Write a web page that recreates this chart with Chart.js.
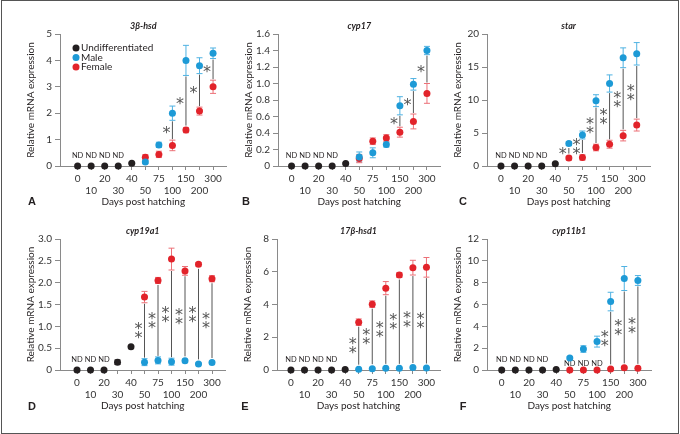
<!DOCTYPE html>
<html>
<head>
<meta charset="utf-8">
<script src="https://cdn.jsdelivr.net/npm/chart.js@4.4.1/dist/chart.umd.min.js"></script>
<style>
  body { margin: 0; background: #fff; }
  #wrap { position: relative; width: 680px; height: 434px; overflow: hidden; }
  #wrap canvas { position: absolute; left: 0; top: 0; }
  .frame { position: absolute; left: 1px; top: 0; width: 676px; height: 432px; border: 1px solid #555; }
  .letter { position: absolute; font: bold 11px 'Liberation Sans', Arial, sans-serif; color: #231f20; transform: translate(-50%, -50%); }
</style>
</head>
<body>
<div id="wrap">
  <div class="frame"></div>
  <canvas id="cA" width="680" height="434"></canvas>
  <canvas id="cB" width="680" height="434"></canvas>
  <canvas id="cC" width="680" height="434"></canvas>
  <canvas id="cD" width="680" height="434"></canvas>
  <canvas id="cE" width="680" height="434"></canvas>
  <canvas id="cF" width="680" height="434"></canvas>
  <div class="letter" style="left:32px;top:201px">A</div>
  <div class="letter" style="left:246px;top:201px">B</div>
  <div class="letter" style="left:463px;top:201px">C</div>
  <div class="letter" style="left:32px;top:406px">D</div>
  <div class="letter" style="left:245px;top:406px">E</div>
  <div class="letter" style="left:463px;top:406px">F</div>
</div>
<script>
Chart.defaults.font.family = 'Lato, sans-serif';
Chart.defaults.color = '#231f20';

// x categories (days post hatching); sexed values start at day 50
const days = ['0', '10', '20', '30', '40', '50', '75', '100', '150', '200', '300'];

// 3β-hsd
const hsdUndiff = [0, 0, 0, 0, 0.1];
const hsdUndiffErr = [0, 0, 0, 0, 0.03];
const hsdMale = [0.15, 0.8, 2.0, 4.0, 3.8, 4.27];
const hsdMaleErr = [0.05, 0.1, 0.27, 0.57, 0.3, 0.2];
const hsdFemale = [0.33, 0.44, 0.78, 1.36, 2.08, 3.0];
const hsdFemaleErr = [0.1, 0.12, 0.2, 0.1, 0.15, 0.25];
const hsdStars = [0, 0, 1, 1, 1, 1];
const hsdNd = ['0', '10', '20', '30'];

// cyp17
const c17Undiff = [0, 0, 0, 0, 0.03];
const c17UndiffErr = [0, 0, 0, 0, 0.01];
const c17Male = [0.11, 0.16, 0.26, 0.73, 0.99, 1.4];
const c17MaleErr = [0.06, 0.06, 0.03, 0.11, 0.07, 0.05];
const c17Female = [0.09, 0.3, 0.34, 0.41, 0.54, 0.88];
const c17FemaleErr = [0.05, 0.04, 0.04, 0.06, 0.09, 0.12];
const c17Stars = [0, 0, 0, 1, 1, 1];
const c17Nd = ['0', '10', '20', '30'];

// star
const starUndiff = [0, 0, 0, 0, 0.35];
const starUndiffErr = [0, 0, 0, 0, 0.1];
const starMale = [3.4, 4.7, 9.9, 12.5, 16.4, 17.0];
const starMaleErr = [0.3, 0.6, 0.9, 1.3, 1.5, 1.7];
const starFemale = [1.2, 1.3, 2.8, 3.3, 4.6, 6.2];
const starFemaleErr = [0.3, 0.4, 0.5, 0.6, 0.8, 0.9];
const starStars = [1, 2, 2, 2, 2, 2];
const starNd = ['0', '10', '20', '30'];

// cyp19a1
const c19Undiff = [0, 0, 0, 0.18, 0.53];
const c19UndiffErr = [0, 0, 0, 0.05, 0.03];
const c19Male = [0.18, 0.22, 0.19, 0.21, 0.14, 0.17];
const c19MaleErr = [0.08, 0.08, 0.08, 0.04, 0.02, 0.03];
const c19Female = [1.67, 2.05, 2.54, 2.27, 2.42, 2.09];
const c19FemaleErr = [0.13, 0.07, 0.25, 0.1, 0.04, 0.07];
const c19Stars = [2, 2, 2, 2, 2, 2];
const c19Nd = ['0', '10', '20'];

// 17β-hsd1
const h17Undiff = [0, 0, 0, 0, 0.03];
const h17UndiffErr = [0, 0, 0, 0, 0.02];
const h17Male = [0.05, 0.08, 0.1, 0.1, 0.15, 0.12];
const h17MaleErr = [0.03, 0.03, 0.03, 0.03, 0.05, 0.04];
const h17Female = [2.92, 4.02, 5.0, 5.8, 6.25, 6.27];
const h17FemaleErr = [0.2, 0.2, 0.4, 0.15, 0.45, 0.6];
const h17Stars = [2, 2, 2, 2, 2, 2];
const h17Nd = ['0', '10', '20', '30'];

// cyp11b1
const c11Undiff = [0, 0, 0, 0, 0.05];
const c11UndiffErr = [0, 0, 0, 0, 0.02];
const c11Male = [1.1, 1.92, 2.6, 6.27, 8.38, 8.2];
const c11MaleErr = [0.1, 0.3, 0.5, 0.85, 1.1, 0.45];
const c11Female = [0, 0, 0, 0.1, 0.2, 0.15];
const c11FemaleErr = [0, 0, 0, 0.03, 0.05, 0.03];
const c11Stars = [0, 0, 0, 2, 2, 2];
const c11Nd = ['0', '10', '20', '30'];
const c11NdFemale = ['50', '75', '100'];

const INK = '#231f20';
const BLUE = '#1d9ad6';
const RED = '#e2232a';
const BLUE_ERR = '#4fb2e2';
const RED_ERR = '#ec7077';
const AXIS = '#8a8a8a';
const R = 3.5;

// error bars, ND labels, significance lines, stars and the legend
const marks = {
  id: 'marks',
  beforeDatasetsDraw(chart, args, opts) {
    const ctx = chart.ctx;
    const y = chart.scales.y;
    ctx.save();
    chart.data.datasets.forEach((ds, di) => {
      const meta = chart.getDatasetMeta(di);
      ctx.font = '7.5px Lato';
      ctx.fillStyle = INK;
      ctx.textAlign = 'center';
      ctx.textBaseline = 'middle';
      ds.nd.forEach(lab => {
        const i = ds.data.findIndex(p => days[p.x] === lab);
        const pt = meta.data[i];
        ctx.fillText('ND', pt.x, pt.y - ds.ndLift);
      });
      ctx.strokeStyle = ds.errColor;
      ctx.lineWidth = 1;
      ds.data.forEach((p, i) => {
        const e = ds.err[i];
        if (!e) return;
        const x = meta.data[i].x;
        const t = y.getPixelForValue(p.y + e);
        const b = y.getPixelForValue(p.y - e);
        ctx.beginPath();
        ctx.moveTo(x, t); ctx.lineTo(x, b);
        ctx.moveTo(x - 3, t); ctx.lineTo(x + 3, t);
        ctx.moveTo(x - 3, b); ctx.lineTo(x + 3, b);
        ctx.stroke();
      });
    });

    const male = chart.data.datasets[1], fem = chart.data.datasets[2];
    const mm = chart.getDatasetMeta(1), fm = chart.getDatasetMeta(2);
    ctx.strokeStyle = '#555';
    ctx.fillStyle = '#555';
    ctx.font = '16px "DejaVu Sans"';
    ctx.textAlign = 'center';
    ctx.textBaseline = 'alphabetic';
    const m = ctx.measureText('*');
    const cOff = (m.actualBoundingBoxAscent - m.actualBoundingBoxDescent) / 2;
    opts.stars.forEach((n, i) => {
      if (!n) return;
      const maleUp = male.data[i].y >= fem.data[i].y;
      const hi = maleUp ? male : fem, hm = maleUp ? mm : fm;
      const lo = maleUp ? fem : male, lm = maleUp ? fm : mm;
      const x = mm.data[i].x;
      const y1 = Math.max(y.getPixelForValue(hi.data[i].y - hi.err[i]), hm.data[i].y + R) + 1;
      const y2 = Math.min(y.getPixelForValue(lo.data[i].y + lo.err[i]), lm.data[i].y - R) - 1;
      ctx.beginPath();
      ctx.moveTo(x, y1); ctx.lineTo(x, y2);
      ctx.stroke();
      const mid = (y1 + y2) / 2;
      if (n === 1) {
        ctx.fillText('*', x - 6, mid + cOff);
      } else {
        ctx.fillText('*', x - 6, mid - 4.5 + cOff);
        ctx.fillText('*', x - 6, mid + 4.5 + cOff);
      }
    });
    ctx.restore();
  },
  afterDatasetsDraw(chart, args, opts) {
    if (!opts.legend) return;
    const ctx = chart.ctx;
    const a = chart.chartArea;
    ctx.save();
    ctx.font = '10px Lato';
    ctx.textAlign = 'left';
    ctx.textBaseline = 'middle';
    chart.data.datasets.forEach((ds, i) => {
      const yy = a.top + 14 + i * 9.5;
      ctx.fillStyle = ds.pointBackgroundColor;
      ctx.beginPath();
      ctx.arc(a.left + 16, yy, R, 0, Math.PI * 2);
      ctx.fill();
      ctx.fillStyle = INK;
      ctx.fillText(ds.label, a.left + 21, yy);
    });
    ctx.restore();
  }
};

function series(label, vals, errs, start, color, errColor, nd, ndLift) {
  return {
    label,
    data: vals.map((v, i) => ({x: start + i, y: v})),
    err: errs,
    nd: nd || [],
    ndLift,
    errColor,
    pointBackgroundColor: color,
    backgroundColor: color,
    pointBorderWidth: 0,
    pointRadius: R,
    pointHoverRadius: R,
    showLine: false,
    clip: false
  };
}

function panel(id, p) {
  const box = p.box;
  new Chart(document.getElementById(id), {
    type: 'scatter',
    data: {
      datasets: [
        series('Undifferentiated', p.undiff, p.undiffErr, 0, INK, INK, p.nd, 10),
        series('Male', p.male, p.maleErr, 5, BLUE, BLUE_ERR, [], 0),
        series('Female', p.female, p.femaleErr, 5, RED, RED_ERR, p.ndFemale, 6.5)
      ]
    },
    options: {
      responsive: false,
      animation: false,
      events: [],
      layout: {
        padding: {left: box.l - 35, right: 680 - box.r, top: box.t - 13.4, bottom: 434 - box.b - 42}
      },
      plugins: {
        legend: {display: false},
        tooltip: {enabled: false},
        title: {
          display: true, text: p.title, fullSize: false, color: INK,
          font: {size: 9, style: 'italic'}, padding: {top: 0, bottom: 2.6}
        },
        marks: {stars: p.stars, legend: !!p.legend}
      },
      scales: {
        x: {
          type: 'linear', min: p.xMin, max: 11,
          afterBuildTicks: s => { s.ticks = days.map((d, i) => ({value: i})); },
          afterFit: s => { s.height = 42; },
          ticks: {
            autoSkip: false, maxRotation: 0, minRotation: 0, padding: 3,
            font: {size: 10}, color: '#333',
            callback: v => (v % 2 === 0 ? [days[v], ''] : ['', days[v]])
          },
          grid: {drawOnChartArea: false, tickLength: 4, color: AXIS},
          border: {color: AXIS},
          title: {display: true, text: 'Days post hatching', font: {size: 10}, padding: 0, color: INK}
        },
        y: {
          min: 0, max: p.yMax,
          afterFit: s => { s.width = 35; },
          ticks: {
            stepSize: p.yStep, padding: 3, font: {size: 10}, color: '#333',
            callback: v => (v === 0 ? '0' : v.toFixed(p.yDec))
          },
          grid: {drawOnChartArea: false, tickLength: 5, color: AXIS},
          border: {color: AXIS},
          title: {display: true, text: 'Relative mRNA expression', font: {size: 10}, padding: 0, color: INK}
        }
      }
    },
    plugins: [marks]
  });
}

panel('cA', {
  title: '3β-hsd', box: {l: 60, r: 226.6, t: 34, b: 166}, xMin: -1.3,
  yMax: 5, yStep: 1, yDec: 0, legend: true,
  undiff: hsdUndiff, undiffErr: hsdUndiffErr, male: hsdMale, maleErr: hsdMaleErr,
  female: hsdFemale, femaleErr: hsdFemaleErr, stars: hsdStars, nd: hsdNd
});
panel('cB', {
  title: 'cyp17', box: {l: 278, r: 440.5, t: 34, b: 166}, xMin: -1.0,
  yMax: 1.6, yStep: 0.2, yDec: 1,
  undiff: c17Undiff, undiffErr: c17UndiffErr, male: c17Male, maleErr: c17MaleErr,
  female: c17Female, femaleErr: c17FemaleErr, stars: c17Stars, nd: c17Nd
});
panel('cC', {
  title: 'star', box: {l: 487, r: 650.3, t: 34, b: 166}, xMin: -1.03,
  yMax: 20, yStep: 5, yDec: 0,
  undiff: starUndiff, undiffErr: starUndiffErr, male: starMale, maleErr: starMaleErr,
  female: starFemale, femaleErr: starFemaleErr, stars: starStars, nd: starNd
});
panel('cD', {
  title: 'cyp19a1', box: {l: 60, r: 225.5, t: 239, b: 370}, xMin: -1.26,
  yMax: 3, yStep: 0.5, yDec: 1,
  undiff: c19Undiff, undiffErr: c19UndiffErr, male: c19Male, maleErr: c19MaleErr,
  female: c19Female, femaleErr: c19FemaleErr, stars: c19Stars, nd: c19Nd
});
panel('cE', {
  title: '17β-hsd1', box: {l: 277, r: 440, t: 239, b: 370}, xMin: -1.03,
  yMax: 8, yStep: 2, yDec: 0,
  undiff: h17Undiff, undiffErr: h17UndiffErr, male: h17Male, maleErr: h17MaleErr,
  female: h17Female, femaleErr: h17FemaleErr, stars: h17Stars, nd: h17Nd
});
panel('cF', {
  title: 'cyp11b1', box: {l: 487, r: 651.5, t: 239, b: 370}, xMin: -1.08,
  yMax: 12, yStep: 2, yDec: 0,
  undiff: c11Undiff, undiffErr: c11UndiffErr, male: c11Male, maleErr: c11MaleErr,
  female: c11Female, femaleErr: c11FemaleErr, stars: c11Stars, nd: c11Nd, ndFemale: c11NdFemale
});
</script>
</body>
</html>
